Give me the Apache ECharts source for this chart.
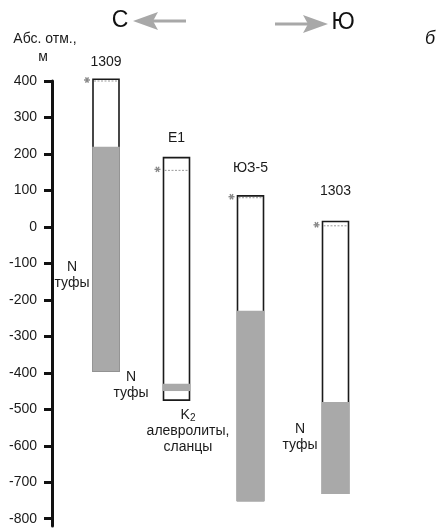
<!DOCTYPE html>
<html><head><meta charset="utf-8">
<script src="https://cdn.jsdelivr.net/npm/echarts@6/dist/echarts.min.js"></script>
<style>html,body{margin:0;padding:0;background:#fff}#c{width:437px;height:529px}</style>
</head><body><div id="c"></div>
<script>
// Wells along the N–S profile
const wells       = ['1309', 'E1', 'ЮЗ-5', '1303'];
const wellPos     = [54, 124.5, 198.5, 283.5];      // position along profile
const wellTop     = [405, 190, 85, 15];             // wellhead altitude, m
const waterLevel  = [400, 155, 80, 3];              // dotted level with marker, m
const grayTop     = [220, -430, -230, -480];        // top of shaded interval, m
const grayBottom  = [-395, -450, -750, -730];       // bottom of shaded interval, m
const wellBottom  = [-395, -475, -750, -730];       // bottom of well, m
const labelAlt    = [452, 244, 162, 98];            // altitude of well name

// Rock notes
const noteX    = [20, 79, 136, 248];
const noteY    = [-132, -433, -559, -576];
const noteText = ['N\nтуфы', 'N\nтуфы', '{k|K}{s|2}\nалевролиты,\nсланцы', 'N\nтуфы'];

// Y axis ticks
const yTicks = [400, 300, 200, 100, 0, -100, -200, -300, -400, -500, -600, -700, -800];

const FONT = '"Liberation Sans", Arial, sans-serif';
const colWidth = 26;

const wellData = wells.map((n, i) => [wellPos[i], wellTop[i], wellBottom[i], grayTop[i], grayBottom[i], waterLevel[i], labelAlt[i], i]);
const noteData = noteText.map((t, i) => [noteX[i], noteY[i], i]);

function renderWell(params, api) {
  const x = api.value(0);
  const cx = api.coord([x, 0])[0];
  const w = api.size([colWidth, 0])[0];
  const yTop = api.coord([x, api.value(1)])[1];
  const yBot = api.coord([x, api.value(2)])[1];
  const gT = api.coord([x, api.value(3)])[1];
  const gB = api.coord([x, api.value(4)])[1];
  const yW = api.coord([x, api.value(5)])[1];
  const yL = api.coord([x, api.value(6)])[1];
  const idx = api.value(7);
  const sw = 1.6;
  const left = cx - w / 2;
  const extraBottom = Math.abs(gB - yBot) < 0.5 ? sw / 2 : 0;
  const sx = left - 6, sy = yW - 1, r = 3;
  return {
    type: 'group',
    children: [
      { type: 'rect', shape: { x: left, y: yTop, width: w, height: yBot - yTop },
        style: { fill: '#fff', stroke: '#1a1a1a', lineWidth: sw } },
      { type: 'rect', shape: { x: left - sw / 2, y: gT, width: w + sw, height: gB - gT + extraBottom },
        style: { fill: '#a9a9a9' } },
      { type: 'line', shape: { x1: left + 1, y1: yW, x2: left + w - 1, y2: yW },
        style: { stroke: '#9a9a9a', lineWidth: 1, lineDash: [2, 1.5] } },
      { type: 'line', shape: { x1: sx - r, y1: sy, x2: sx + r, y2: sy }, style: { stroke: '#888', lineWidth: 1.4 } },
      { type: 'line', shape: { x1: sx - r * 0.5, y1: sy - r * 0.87, x2: sx + r * 0.5, y2: sy + r * 0.87 }, style: { stroke: '#888', lineWidth: 1.4 } },
      { type: 'line', shape: { x1: sx + r * 0.5, y1: sy - r * 0.87, x2: sx - r * 0.5, y2: sy + r * 0.87 }, style: { stroke: '#888', lineWidth: 1.4 } },
      { type: 'text', style: { text: wells[idx], x: cx, y: yL, align: 'center', verticalAlign: 'middle',
        fontSize: 14, fontFamily: FONT, fill: '#1a1a1a' } }
    ]
  };
}

function renderNote(params, api) {
  const p = api.coord([api.value(0), api.value(1)]);
  const idx = api.value(2);
  return {
    type: 'text',
    style: {
      text: noteText[idx], x: p[0], y: p[1], align: 'center', verticalAlign: 'middle',
      fontSize: 14, lineHeight: 16, fontFamily: FONT, fill: '#1a1a1a',
      rich: {
        k: { fontSize: 14, fontFamily: FONT, fill: '#1a1a1a', lineHeight: 16 },
        s: { fontSize: 10, fontFamily: FONT, fill: '#1a1a1a', verticalAlign: 'bottom', padding: [6, 0, 0, 0], lineHeight: 16 }
      }
    }
  };
}

const chart = echarts.init(document.getElementById('c'), null, { renderer: 'canvas' });
chart.setOption({
  animation: false,
  backgroundColor: '#fff',
  grid: { left: 52, right: 0, top: 81, bottom: 3 },
  xAxis: { type: 'value', min: 0, max: 385, show: false },
  yAxis: {
    type: 'value', min: -820, max: 400,
    axisLine: { show: true, lineStyle: { color: '#111', width: 3 } },
    axisTick: { show: true, customValues: yTicks, length: 8, lineStyle: { color: '#111', width: 3 } },
    axisLabel: { show: true, customValues: yTicks, margin: 15, fontSize: 14, fontFamily: FONT, color: '#1a1a1a' },
    splitLine: { show: false }
  },
  graphic: [
    { type: 'text', style: { text: 'С', x: 120, y: 21, align: 'center', verticalAlign: 'middle', fontSize: 23, fontFamily: FONT, fill: '#111' } },
    { type: 'line', shape: { x1: 150, y1: 21, x2: 186, y2: 21 }, style: { stroke: '#a8a8a8', lineWidth: 3 } },
    { type: 'polygon', shape: { points: [[133, 21], [158, 12], [153, 21], [158, 30]] }, style: { fill: '#a8a8a8' } },
    { type: 'line', shape: { x1: 275, y1: 24, x2: 310, y2: 24 }, style: { stroke: '#a8a8a8', lineWidth: 3 } },
    { type: 'polygon', shape: { points: [[328, 24], [303, 15], [308, 24], [303, 33]] }, style: { fill: '#a8a8a8' } },
    { type: 'text', style: { text: 'Ю', x: 343, y: 23, align: 'center', verticalAlign: 'middle', fontSize: 23, fontFamily: FONT, fill: '#111' } },
    { type: 'text', style: { text: 'б', x: 430, y: 39, align: 'center', verticalAlign: 'middle', fontSize: 18, fontStyle: 'italic', fontFamily: FONT, fill: '#111' } },
    { type: 'text', style: { text: 'Абс. отм.,', x: 45, y: 39, align: 'center', verticalAlign: 'middle', fontSize: 14, fontFamily: FONT, fill: '#1a1a1a' } },
    { type: 'text', style: { text: 'м', x: 43, y: 57, align: 'center', verticalAlign: 'middle', fontSize: 14, fontFamily: FONT, fill: '#1a1a1a' } }
  ],
  series: [
    { type: 'custom', renderItem: renderWell, data: wellData, clip: false, encode: { x: 0, y: 1 } },
    { type: 'custom', renderItem: renderNote, data: noteData, clip: false, encode: { x: 0, y: 1 } }
  ]
});
</script></body></html>
